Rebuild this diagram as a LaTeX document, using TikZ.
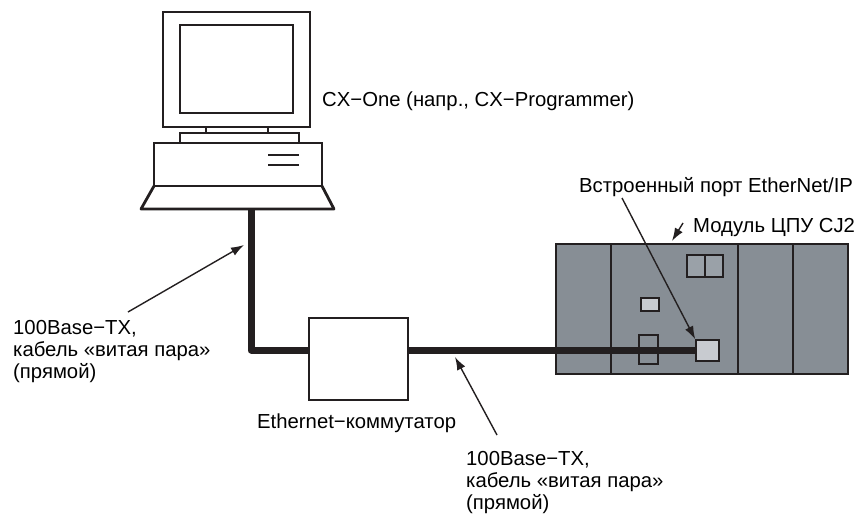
\documentclass[tikz,border=0pt]{standalone}
\usepackage{fontspec}
\setmainfont{Liberation Sans}
\usetikzlibrary{arrows.meta}

\definecolor{plcgray}{RGB}{135,142,149}
\definecolor{plcmid}{RGB}{154,161,168}
\definecolor{plclight}{RGB}{200,203,208}
\definecolor{ink}{RGB}{35,31,32}

\tikzset{
  frame/.style={draw=ink, line width=2.8pt},
  thinframe/.style={draw=ink, line width=1.8pt},
  plcbox/.style={draw=ink, line width=2pt, fill=plcgray},
  part/.style={draw=ink, line width=1.6pt, inner sep=0pt},
  cable/.style={draw=ink, line width=7pt, line join=round},
  callout/.style={draw=ink, line width=1.4pt, -{Latex[length=13pt,width=9pt]}},
  txt/.style={inner sep=0pt, font=\fontsize{20.3}{22}\selectfont, align=left}
}

\begin{document}
\begin{tikzpicture}[x=1pt,y=-1pt]
\useasboundingbox (0,0) rectangle (855,514);

% computer
\draw[frame] (163,12) rectangle (310,127);
\draw[thinframe] (180,25) rectangle (293,113);
\draw[thinframe] (206,127) rectangle (268,133);
\draw[frame] (180,133) rectangle (299,143);
\draw[frame] (154,143) rectangle (322,186);
\draw[thinframe] (268,155) -- (299,155) (268,165) -- (299,165);
\draw[frame, line join=round] (154,186) -- (141,209) -- (334,209) -- (322,186);
\coordinate (pcport) at (251,209);

% ethernet switch
\node[draw=ink, line width=2pt, minimum width=99pt, minimum height=82pt] (switch) at (358.5,359) {};
\coordinate (swin) at (309,350);

% CJ2 CPU unit
\node[plcbox, minimum width=292pt, minimum height=130pt] (plc) at (702,309) {};
\draw[draw=ink, line width=2pt] (611,244) -- (611,374) (738,244) -- (738,374) (793,244) -- (793,374);
\draw[part, fill=plcmid] (687,255) rectangle (723,277);
\draw[part] (705,255) -- (705,277);
\draw[part, fill=plclight] (641,298) rectangle (659,311);
\draw[part] (639,335) rectangle (658,364);
\node[part, fill=plclight, minimum width=23pt, minimum height=21pt] (port) at (707.5,350.5) {};

% twisted pair cables
\draw[cable] (pcport) |- (swin);
\draw[cable] (switch.east |- port.west) -- (port.west);

% texts
\node[txt, anchor=base west] (pclabel) at (322,106) {CX−One (напр., CX−Programmer)};
\node[txt, anchor=base west] (portlabel) at (579,192) {Встроенный порт EtherNet/IP};
\node[txt, anchor=base west] (cpulabel) at (693,232) {Модуль ЦПУ CJ2};
\node[txt, anchor=base west] (switchlabel) at (257,428) {Ethernet−коммутатор};
\node[txt, anchor=north west] (lanA) at (13,320) {100Base−TX,\\кабель «витая пара»\\(прямой)};
\node[txt, anchor=north west] (lanB) at (466,451) {100Base−TX,\\кабель «витая пара»\\(прямой)};

% callouts
\coordinate (lanAtail) at (128,312);
\coordinate (lanAtip) at (244,245);
\coordinate (lanBtail) at (497,435);
\coordinate (lanBtip) at (455,357);
\coordinate (porttail) at (622,198);
\coordinate (cputail) at (683,223);
\coordinate (cputip) at (672,241);
\draw[callout] (lanAtail) -- (lanAtip);
\draw[callout] (lanBtail) -- (lanBtip);
\draw[callout] (porttail) -- (port.north west);
\draw[callout] (cputail) -- (cputip);
\end{tikzpicture}
\end{document}
